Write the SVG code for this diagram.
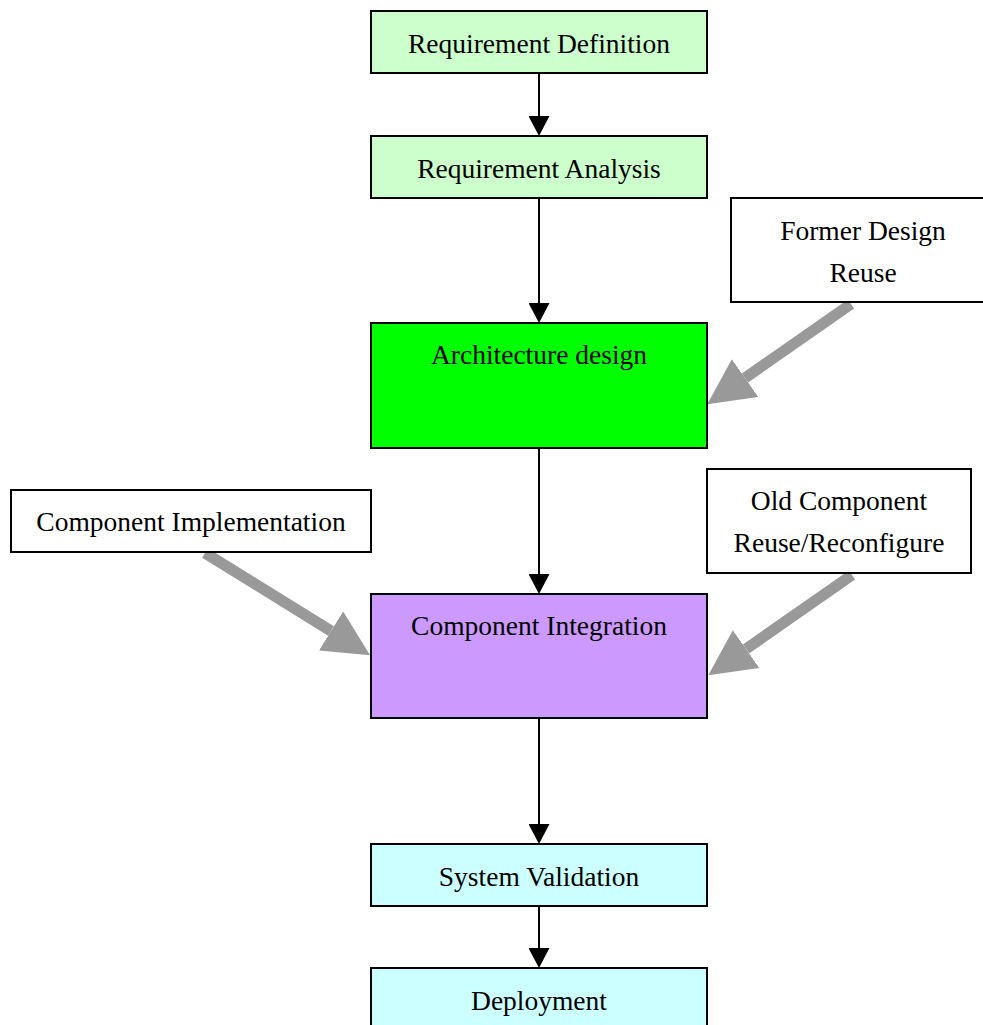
<svg xmlns="http://www.w3.org/2000/svg" width="983" height="1025" viewBox="0 0 983 1025">
  <style>
    .box { stroke: #000; stroke-width: 2; }
    .note { fill: #fff; stroke: #000; stroke-width: 2; }
    .lbl { font-family: "Liberation Serif", "Times New Roman", serif; font-size: 27.5px; fill: #000; text-anchor: middle; }
    .flow { stroke: #000; stroke-width: 2; fill: none; marker-end: url(#head); }
    .reuse { stroke: #999; stroke-width: 11; fill: none; marker-end: url(#bighead); }
  </style>
  <defs>
    <marker id="head" markerUnits="userSpaceOnUse" markerWidth="20" markerHeight="21" refX="0" refY="10.5" orient="auto">
      <path d="M0,0 L20,10.5 L0,21 z" fill="#000"/>
    </marker>
    <marker id="bighead" markerUnits="userSpaceOnUse" markerWidth="46" markerHeight="46" refX="0" refY="23" orient="auto">
      <path d="M0,0 L46,23 L0,46 z" fill="#999"/>
    </marker>
  </defs>

  <rect width="983" height="1025" fill="#fff"/>

  <!-- process flow connectors -->
  <g id="connectors">
    <line class="flow" x1="539" y1="73" x2="539" y2="116"/>
    <line class="flow" x1="539" y1="198" x2="539" y2="303"/>
    <line class="flow" x1="539" y1="448" x2="539" y2="574"/>
    <line class="flow" x1="539" y1="718" x2="539" y2="824"/>
    <line class="flow" x1="539" y1="906" x2="539" y2="948"/>
    <!-- reuse inputs -->
    <line class="reuse" x1="851" y1="304" x2="745" y2="378"/>
    <line class="reuse" x1="205" y1="553" x2="331" y2="631"/>
    <line class="reuse" x1="852" y1="575" x2="746" y2="649"/>
  </g>

  <g id="req-definition">
    <rect class="box" x="371" y="11" width="336" height="62" fill="#CCFFCC"/>
    <text class="lbl" x="539" y="53">Requirement Definition</text>
  </g>
  <g id="req-analysis">
    <rect class="box" x="371" y="136" width="336" height="62" fill="#CCFFCC"/>
    <text class="lbl" x="539" y="178">Requirement Analysis</text>
  </g>
  <g id="architecture-design">
    <rect class="box" x="371" y="323" width="336" height="125" fill="#00FF00"/>
    <text class="lbl" x="539" y="364">Architecture design</text>
  </g>
  <g id="component-integration">
    <rect class="box" x="371" y="594" width="336" height="124" fill="#CC99FF"/>
    <text class="lbl" x="539" y="635">Component Integration</text>
  </g>
  <g id="system-validation">
    <rect class="box" x="371" y="844" width="336" height="62" fill="#CCFFFF"/>
    <text class="lbl" x="539" y="886">System Validation</text>
  </g>
  <g id="deployment">
    <rect class="box" x="371" y="968" width="336" height="62" fill="#CCFFFF"/>
    <text class="lbl" x="539" y="1010">Deployment</text>
  </g>

  <g id="former-design-reuse">
    <rect class="note" x="731" y="198" width="264" height="104"/>
    <text class="lbl" x="863" y="240">Former Design</text>
    <text class="lbl" x="863" y="282">Reuse</text>
  </g>
  <g id="component-implementation">
    <rect class="note" x="11" y="490" width="360" height="62"/>
    <text class="lbl" x="191" y="531">Component Implementation</text>
  </g>
  <g id="old-component-reuse">
    <rect class="note" x="707" y="469" width="264" height="104"/>
    <text class="lbl" x="839" y="510">Old Component</text>
    <text class="lbl" x="839" y="552">Reuse/Reconfigure</text>
  </g>
</svg>
